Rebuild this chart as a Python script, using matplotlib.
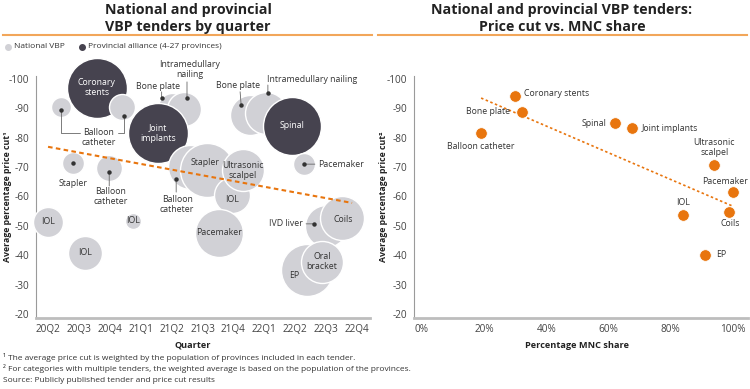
import matplotlib.pyplot as plt
from matplotlib.lines import Line2D
from matplotlib.transforms import offset_copy

plt.rcParams['font.family'] = ['Open Sans', 'DejaVu Sans']
plt.rcParams['axes.unicode_minus'] = False

LIGHT = '#D1D1D6'
DARK = '#46434F'
ORANGE = '#E8750E'
RULE = '#F2A65A'
TXT = '#333333'
LBL = 6.3

quarters = ['20Q2', '20Q3', '20Q4', '21Q1', '21Q2', '21Q3', '21Q4', '22Q1', '22Q2', '22Q3', '22Q4']

# left chart: one bubble per tender, x = quarter index
tender_name = ['Balloon catheter', 'Coronary stents', 'Balloon catheter', 'Stapler', 'Balloon catheter',
               'IOL', 'IOL', 'IOL', 'Bone plate', 'Intramedullary nailing', 'Joint implants',
               'Balloon catheter', 'Stapler', 'IOL', 'Pacemaker', 'Ultrasonic scalpel',
               'Bone plate', 'Intramedullary nailing', 'Spinal', 'Pacemaker',
               'IVD liver', 'Coils', 'EP', 'Oral bracket']
tender_quarter = [0.42, 1.58, 2.39, 0.81, 1.98, 0.0, 1.2, 2.75, 4.0, 4.4, 3.56,
                  4.6, 5.15, 5.95, 5.53, 6.3, 6.54, 7.05, 7.9, 8.28, 9.0, 9.5, 8.38, 8.87]
tender_cut = [-90.5, -97, -90.5, -71.4, -69.7, -51.4, -40.8, -51.7, -90.5, -89.8, -81.6,
              -70, -69, -60.5, -47.6, -69, -87.8, -88.4, -84, -71, -50, -52.7, -35, -37.8]
tender_size = [10, 30, 13, 11, 13, 15, 17, 8, 14, 17, 30,
               22, 27, 18, 24, 21, 20, 21, 29, 11, 21, 22, 26, 21]
tender_type = ['N', 'P', 'N', 'N', 'N', 'N', 'N', 'N', 'N', 'N', 'P',
               'N', 'N', 'N', 'N', 'N', 'N', 'N', 'P', 'N', 'N', 'N', 'N', 'N']

trend_q = [0, 9.84]
trend_q_cut = [-76.9, -57.8]

# right chart
share_name = ['Coronary stents', 'Bone plate', 'Balloon catheter', 'Spinal', 'Joint implants',
              'Ultrasonic\nscalpel', 'Pacemaker', 'IOL', 'Coils', 'EP']
share_mnc = [0.30, 0.32, 0.19, 0.62, 0.674, 0.94, 1.0, 0.84, 0.987, 0.91]
share_cut = [-94.2, -88.8, -81.6, -85, -83.3, -70.7, -61.5, -53.7, -54.8, -40.1]

trend_s = [0.19, 0.997]
trend_s_cut = [-93.5, -56.8]

fig = plt.figure(figsize=(7.5, 3.89), dpi=100)
axL = fig.add_axes([36 / 750, 1 - 318 / 389, 334 / 750, 242 / 389])
axR = fig.add_axes([414 / 750, 1 - 318 / 389, 334 / 750, 242 / 389])


def off(ax, dx, dy):
    return offset_copy(ax.transData, fig=fig, x=dx, y=dy, units='dots')


for ax in (axL, axR):
    ax.set_ylim(-18.64, -101.0)
    ax.set_yticks(range(-100, -19, 10))
    ax.set_yticklabels([str(v) for v in range(-100, -19, 10)])
    for s in ('top', 'right'):
        ax.spines[s].set_visible(False)
    ax.spines['left'].set_color('#9A9A9A')
    ax.spines['left'].set_linewidth(0.8)
    ax.spines['bottom'].set_color('#BDBDBD')
    ax.spines['bottom'].set_linewidth(2)
    ax.tick_params(length=0, labelsize=7.2, labelcolor='#444444')
    ax.tick_params(axis='y', pad=5)
    ax.tick_params(axis='x', pad=4)
    ax.set_facecolor('none')

# ---- left: bubbles
axL.set_xlim(-0.39, 10.42)
axL.set_xticks(range(len(quarters)))
axL.set_xticklabels(quarters)
for i in range(len(tender_name)):
    col = DARK if tender_type[i] == 'P' else LIGHT
    axL.scatter(tender_quarter[i], tender_cut[i], s=(1.44 * tender_size[i]) ** 2, color=col,
                edgecolors='white', linewidths=1.0, zorder=2 + i, clip_on=False)

axL.plot(trend_q, trend_q_cut, color=ORANGE, lw=1.5, ls=(0, (2.2, 1.6)), zorder=40)

inside = [(1, 'Coronary\nstents', 0, 0), (10, 'Joint\nimplants', 0, 0), (18, 'Spinal', 0, 0),
          (5, 'IOL', 0, 0), (6, 'IOL', 0, 0), (7, 'IOL', 0, 0), (12, 'Stapler', -2, 8),
          (15, 'Ultrasonic\nscalpel', 0, 0), (13, 'IOL', 0, -4), (14, 'Pacemaker', 0, 0),
          (21, 'Coils', 2, -2), (23, 'Oral\nbracket', 0, 0), (22, 'EP', -13, -6)]
for i, t, dx, dy in inside:
    c = 'white' if tender_type[i] == 'P' else TXT
    axL.text(tender_quarter[i], tender_cut[i], t, transform=off(axL, dx, dy), ha='center',
             va='center', fontsize=LBL, color=c, zorder=60, linespacing=1.15)

# callouts: bubble index, dot offset, line end offset, elbow
callouts = [(0, (0, -3), (19, -26), True), (2, (2, -9), (-4, -26), True),
            (4, (0, -4), (0, -18), False), (8, (-10, 9), (-10, 15), False),
            (9, (3, 11), (3, 27), False), (11, (-14, -12), (-14, -25), False),
            (16, (-9, 10), (-10, 23), False), (17, (2, 20), (2, 28), False),
            (19, (0, 0), (11, 0), False), (20, (-12, 2), (-20, 2), False),
            (3, (0, 0), None, False)]
for i, (adx, ady), end, elbow in callouts:
    x, y = tender_quarter[i], tender_cut[i]
    axL.plot(x, y, 'o', ms=2.2, color='#333333', transform=off(axL, adx, ady), zorder=55, clip_on=False)
    if end is None:
        continue
    cs = 'angle,angleA=0,angleB=90' if elbow else 'arc3'
    axL.annotate('', xy=(x, y), xycoords=off(axL, adx, ady), xytext=(x, y),
                 textcoords=off(axL, end[0], end[1]),
                 arrowprops=dict(arrowstyle='-', lw=0.6, color='#666666', shrinkA=0, shrinkB=0,
                                 connectionstyle=cs), zorder=54)

outside = [(0, 'Balloon\ncatheter', 38, -31, 'center'), (3, 'Stapler', 0, -21, 'center'),
           (4, 'Balloon\ncatheter', 1, -29, 'center'), (8, 'Bone plate', -14, 20, 'center'),
           (9, 'Intramedullary\nnailing', 6, 39, 'center'), (11, 'Balloon\ncatheter', -13, -37, 'center'),
           (16, 'Bone plate', -12, 29, 'center'), (17, 'Intramedullary nailing', 1, 34, 'left'),
           (19, 'Pacemaker', 14, 0, 'left'), (20, 'IVD liver', -23, 2, 'right')]
for i, t, dx, dy, ha in outside:
    axL.text(tender_quarter[i], tender_cut[i], t, transform=off(axL, dx, dy), ha=ha, va='center',
             fontsize=LBL, color=TXT, zorder=60, linespacing=1.15)

# ---- right: scatter
axR.set_xlim(-0.0257, 1.048)
axR.set_xticks([0, 0.2, 0.4, 0.6, 0.8, 1.0])
axR.set_xticklabels(['0%', '20%', '40%', '60%', '80%', '100%'])
axR.plot(trend_s, trend_s_cut, color=ORANGE, lw=1.2, ls=(0, (1.5, 1.5)), zorder=3)
axR.scatter(share_mnc, share_cut, s=70, color=ORANGE, edgecolors='white', linewidths=0.6,
            zorder=5, clip_on=False)
share_lbl = [(9, 2, 'left'), (-11, 0, 'right'), (0, -13, 'center'), (-8, 0, 'right'),
             (10, 0, 'left'), (0, 18, 'center'), (15, 11, 'right'), (0, 12, 'center'),
             (1, -12, 'center'), (11, 0, 'left')]
for k, (dx, dy, ha) in enumerate(share_lbl):
    axR.text(share_mnc[k], share_cut[k], share_name[k], transform=off(axR, dx, dy), ha=ha,
             va='center', fontsize=LBL, color=TXT, zorder=6, linespacing=1.15)

# ---- titles, rules, legend, axis titles, notes
fig.text(188 / 750, 1 - 18.5 / 389, 'National and provincial\nVBP tenders by quarter', ha='center',
         va='center', fontsize=10.3, fontweight='bold', color='#222222', linespacing=1.25)
fig.text(562 / 750, 1 - 18.5 / 389, 'National and provincial VBP tenders:\nPrice cut vs. MNC share',
         ha='center', va='center', fontsize=10.3, fontweight='bold', color='#222222', linespacing=1.25)
for x0, x1 in ((3, 372), (378, 747)):
    fig.add_artist(Line2D([x0 / 750, x1 / 750], [1 - 35 / 389] * 2, color=RULE, lw=1.5))

fig.add_artist(Line2D([8 / 750], [1 - 47 / 389], marker='o', ms=4, color=LIGHT, lw=0))
fig.text(14 / 750, 1 - 47 / 389, 'National VBP', fontsize=6, va='center', color=TXT)
fig.add_artist(Line2D([82 / 750], [1 - 47 / 389], marker='o', ms=4, color=DARK, lw=0))
fig.text(88 / 750, 1 - 47 / 389, 'Provincial alliance (4-27 provinces)', fontsize=6,
         va='center', color=TXT)

fig.text(8 / 750, 1 - 197 / 389, 'Average percentage price cut¹', rotation=90, ha='center',
         va='center', fontsize=6.3, fontweight='bold', color='#222222')
fig.text(383 / 750, 1 - 197 / 389, 'Average percentage price cut²', rotation=90, ha='center',
         va='center', fontsize=6.3, fontweight='bold', color='#222222')
fig.text(193 / 750, 1 - 345 / 389, 'Quarter', ha='center', va='center', fontsize=6.6,
         fontweight='bold', color='#222222')
fig.text(577 / 750, 1 - 345 / 389, 'Percentage MNC share', ha='center', va='center', fontsize=6.6,
         fontweight='bold', color='#222222')

notes = ['¹ The average price cut is weighted by the population of provinces included in each tender.',
         '² For categories with multiple tenders, the weighted average is based on the population of the provinces.',
         'Source: Publicly published tender and price cut results']
for k, n in enumerate(notes):
    fig.text(3 / 750, 1 - (357 + 11.5 * k) / 389, n, fontsize=6, va='center', color=TXT)

fig.savefig('out.png', dpi=100)
